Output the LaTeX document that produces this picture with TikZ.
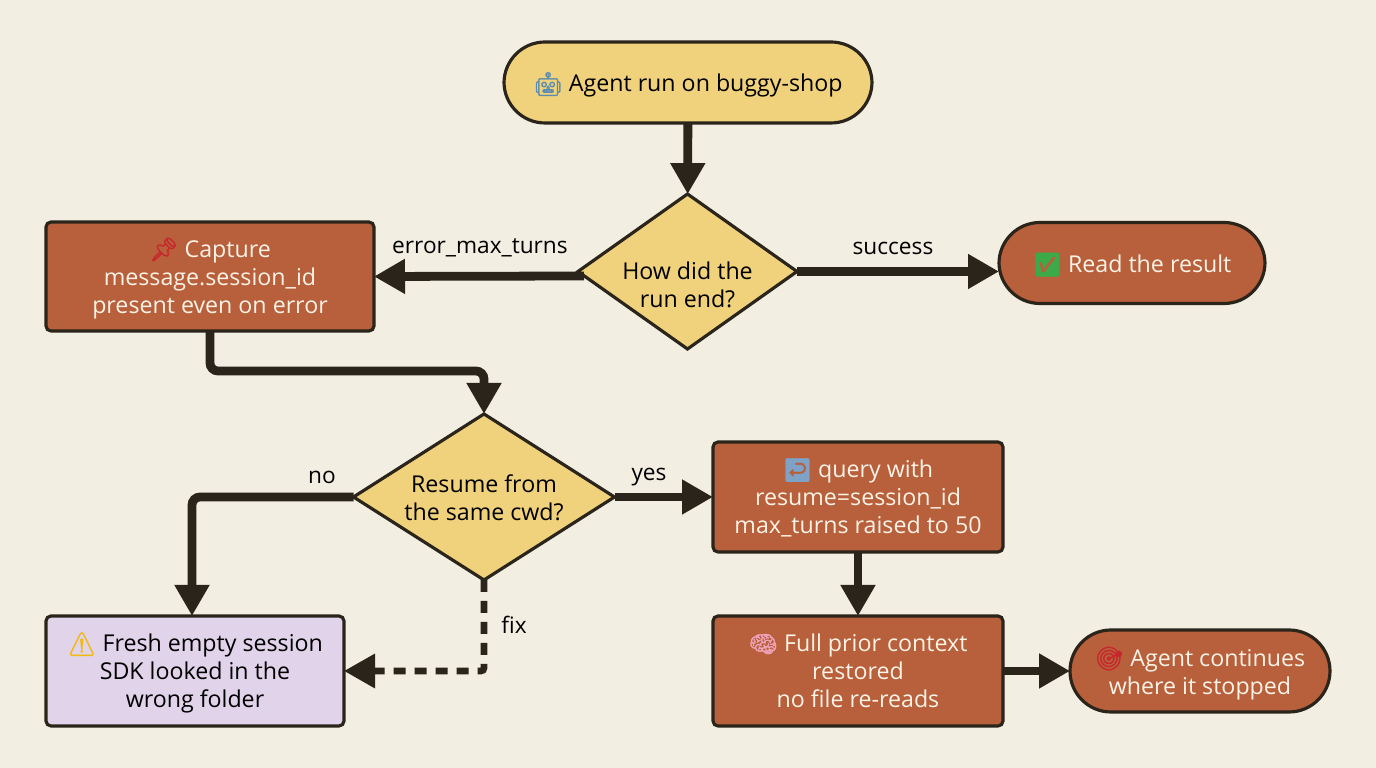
\documentclass[tikz,border=0pt]{standalone}
\usepackage{fontspec}
\setmainfont{Open Sans}
\newfontfamily\emojifont[AutoFakeBold=1.6]{Noto Emoji}
\usetikzlibrary{arrows.meta, shapes.geometric}

\definecolor{paper}{HTML}{F2EEE1}
\definecolor{ink}{HTML}{2A241B}
\definecolor{sand}{HTML}{F0D27C}
\definecolor{rust}{HTML}{B85F3C}
\definecolor{lilac}{HTML}{E0D3EA}
\definecolor{cream}{HTML}{FBF3E6}

\newcommand{\emo}[2]{{\emojifont\bfseries\textcolor[HTML]{#1}{#2}}}

\tikzstyle{box}=[rectangle, draw=ink, line width=0.9pt, rounded corners=0.05cm, align=center, inner sep=0pt, outer sep=0pt, text depth=0pt, font=\fontsize{6.6}{7.97}\selectfont]
\tikzstyle{oneline}=[text height=0.19cm]
\tikzstyle{twolines}=[text height=0.47cm]
\tikzstyle{threelines}=[text height=0.74cm]
\tikzstyle{proc}=[box, threelines, fill=rust, text=cream, minimum width=2.90cm, minimum height=1.10cm]
\tikzstyle{term}=[box, rounded corners=0.41cm, minimum height=0.81cm]
\tikzstyle{dec}=[box, diamond, fill=sand, text=black, rounded corners=0pt]
\tikzstyle{flow}=[draw=ink, line width=2.5pt, -{Triangle[length=0.31cm, width=0.33cm]}]
\tikzstyle{tag}=[font=\fontsize{6.45}{7.97}\selectfont, text=black, inner sep=0pt]

\begin{document}
\begin{tikzpicture}
    \useasboundingbox (0,0) rectangle (13.76,7.68);
    \fill[paper] (0,0) rectangle (13.76,7.68);

    \node[term, oneline, fill=sand, text=black, minimum width=3.68cm] at (6.88,6.855) (start) {\emo{5C8CAD}{🤖} Agent run on buggy-shop};
    \node[dec, aspect=1.39, minimum width=2.19cm, minimum height=1.55cm] at (6.875,4.965) (end) {};
    \node[tag, font=\fontsize{6.6}{7.97}\selectfont, align=center] at (6.875,4.83) (endtext) {How did the\\run end?};
    \node[term, oneline, fill=rust, text=cream, minimum width=2.66cm] at (11.32,5.05) (read) {\emo{3DAA4A}{✅} Read the result};
    \node[proc, minimum width=3.28cm, minimum height=1.09cm] at (2.10,4.915) (capture) {\emo{C8262C}{📌} Capture\\message.session\_id\\present even on error};
    \node[dec, twolines, aspect=1.56, minimum width=2.61cm, minimum height=1.66cm] at (4.84,2.71) (cwd) {Resume from\\the same cwd?};
    \node[proc] at (8.58,2.71) (query) {\emo{7FA3C7}{↩} query with\\resume=session\_id\\max\_turns raised to 50};
    \node[proc] at (8.58,0.97) (full) {\emo{EFA3B8}{🧠} Full prior context\\restored\\no file re-reads};
    \node[term, twolines, fill=rust, text=cream, minimum width=2.60cm, minimum height=0.82cm] at (12.00,0.97) (goal) {\emo{C8262C}{🎯} Agent continues\\where it stopped};
    \node[box, threelines, fill=lilac, text=black, minimum width=2.98cm, minimum height=1.10cm] at (1.95,0.97) (fresh) {\emo{F2B90F}{⚠} Fresh empty session\\SDK looked in the\\wrong folder};

    \draw[flow] (start) -- (end);
    \draw[flow] ([shift={(0.06,-0.045)}]end.west) -- (capture.east);
    \draw[flow] (end.east) -- (end.east -| read.west);
    \draw[flow, rounded corners=0.08cm] (capture.south) -- ++(0,-0.40) -| (cwd.north);
    \draw[flow, rounded corners=0.08cm] (cwd.west) -| ([xshift=-0.03cm]fresh.north);
    \draw[flow] (cwd.east) -- (query.west);
    \draw[flow] (query.south) -- (full.north);
    \draw[flow] (full.east) -- (goal.west);
    \draw[flow, line width=1.9pt, dash pattern=on 0.12cm off 0.09cm, rounded corners=0.03cm] (cwd.south) |- (fresh.east);

    \node[tag] at (4.80,5.20) (l1) {error\_max\_turns};
    \node[tag] at (8.93,5.20) (l2) {success};
    \node[tag] at (3.22,2.91) (l3) {no};
    \node[tag] at (6.49,2.91) (l4) {yes};
    \node[tag] at (5.14,1.43) (l5) {fix};
\end{tikzpicture}
\end{document}
